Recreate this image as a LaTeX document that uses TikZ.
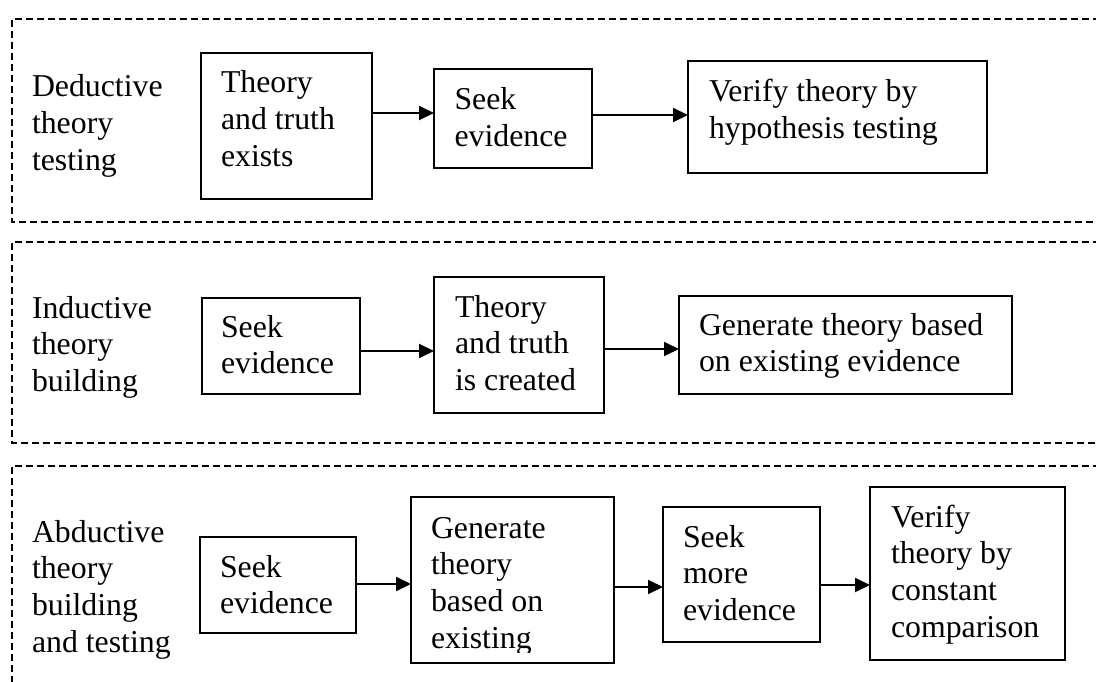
\documentclass[tikz,border=0pt]{standalone}
\usepackage{fontspec}
\setmainfont{Liberation Serif}
\usetikzlibrary{arrows.meta}

\tikzset{
  procbox/.style={draw=black, line width=2pt, rectangle, inner sep=0pt, outer sep=0pt},
  % multi-line text, placed by the baseline of its last line
  ptext/.style={anchor=base west, inner sep=0pt, outer sep=0pt, align=left,
                font=\fontsize{31.8pt}{36.7pt}\selectfont},
  flow/.style={line width=2pt, -{Triangle[length=15pt,width=14pt]}},
  band/.style={line width=1.8pt, dash pattern=on 7pt off 4pt},
}

\begin{document}
\begin{tikzpicture}[x=1pt, y=-1pt]
  \useasboundingbox (0,0) rectangle (1096,682);
  \clip (0,0) rectangle (1096,682);

  % dashed bands, open to the right (and the last one to the bottom)
  \draw[band] (1100,19) -| (12,222) -- (1100,222);
  \draw[band] (1100,242) -| (12,443) -- (1100,443);
  \draw[band] (1100,466) -| (12,690);

  % row labels
  \node[ptext] (lab1) at (32,170.4) {Deductive\\theory\\testing};
  \node[ptext] (lab2) at (32,391.4) {Inductive\\theory\\building};
  \node[ptext] (lab3) at (32,652.1) {Abductive\\theory\\building\\and testing};

  % deductive row
  \node[procbox, minimum width=171pt, minimum height=146pt] (d1) at (286.5,126) {};
  \node[procbox, minimum width=158pt, minimum height=99pt]  (d2) at (513,118.5) {};
  \node[procbox, minimum width=299pt, minimum height=112pt] (d3) at (837.5,117) {};
  \node[ptext] (d1t) at (221,166.4)   {Theory\\and truth\\exists};
  \node[ptext] (d2t) at (454.5,146.7) {Seek\\evidence};
  \node[ptext] (d3t) at (709,138.7)   {Verify theory by\\hypothesis testing};

  % inductive row
  \node[procbox, minimum width=158pt, minimum height=96pt]  (i1) at (281,346) {};
  \node[procbox, minimum width=170pt, minimum height=136pt] (i2) at (519,345) {};
  \node[procbox, minimum width=333pt, minimum height=98pt]  (i3) at (845.5,345) {};
  \node[ptext] (i1t) at (221,373.7) {Seek\\evidence};
  \node[ptext] (i2t) at (455,390.4) {Theory\\and truth\\is created};
  \node[ptext] (i3t) at (699,371.7) {Generate theory based\\on existing evidence};

  % abductive row
  \node[procbox, minimum width=156pt, minimum height=96pt]  (b1) at (278,585) {};
  \node[procbox, minimum width=203pt, minimum height=166pt] (b2) at (512.5,580) {};
  \node[procbox, minimum width=157pt, minimum height=135pt] (b3) at (741.5,574.5) {};
  \node[procbox, minimum width=195pt, minimum height=173pt] (b4) at (967.5,573.5) {};
  \node[ptext] (b1t) at (220,613.7) {Seek\\evidence};
  \begin{scope}
    \clip (400,490) rectangle (620,652);
    \node[ptext] (b2t) at (431,648.1) {Generate\\theory\\based on\\existing};
  \end{scope}
  \node[ptext] (b3t) at (683,620.4) {Seek\\more\\evidence};
  \node[ptext] (b4t) at (891,637.1) {Verify\\theory by\\constant\\comparison};

  % connector heights
  \coordinate (h1) at (0,113);
  \coordinate (h2) at (0,115);
  \coordinate (h3) at (0,351);
  \coordinate (h4) at (0,349);
  \coordinate (h5) at (0,584);
  \coordinate (h6) at (0,587);
  \coordinate (h7) at (0,585);

  \draw[flow] (d1.east |- h1) -- (d2.west |- h1);
  \draw[flow] (d2.east |- h2) -- (d3.west |- h2);
  \draw[flow] (i1.east |- h3) -- (i2.west |- h3);
  \draw[flow] (i2.east |- h4) -- (i3.west |- h4);
  \draw[flow] (b1.east |- h5) -- (b2.west |- h5);
  \draw[flow] (b2.east |- h6) -- (b3.west |- h6);
  \draw[flow] (b3.east |- h7) -- (b4.west |- h7);
\end{tikzpicture}
\end{document}
